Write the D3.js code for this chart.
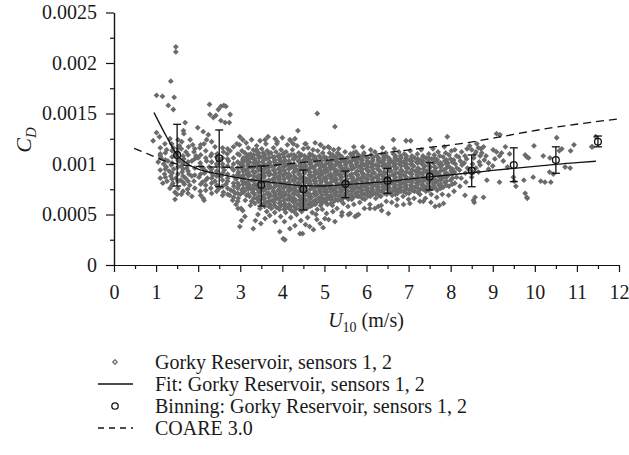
<!DOCTYPE html>
<html>
<head>
<meta charset="utf-8">
<script src="https://cdn.jsdelivr.net/npm/d3@7"></script>
<style>
  html, body { margin: 0; padding: 0; background: #fff; }
  svg { display: block; }
  text { font-family: "Liberation Serif", "DejaVu Serif", "Times New Roman", serif; fill: #1a1a1a; }
</style>
</head>
<body>
<svg id="chart" width="629" height="455"></svg>
<script>
// Wind-speed axis ticks and drag-coefficient axis ticks
const xTickValues = [0, 1, 2, 3, 4, 5, 6, 7, 8, 9, 10, 11, 12];
const xMinorTicks = [0.5, 1.5, 2.5, 3.5, 4.5, 5.5, 6.5, 7.5, 8.5, 9.5, 10.5, 11.5];
const yTickValues = [0, 0.0005, 0.001, 0.0015, 0.002, 0.0025];
const yTickLabels = ["0", "0.0005", "0.001", "0.0015", "0.002", "0.0025"];
const yMinorTicks = [0.00025, 0.00075, 0.00125, 0.00175, 0.00225];

// Legend entries
const legendLabels = [
  "Gorky Reservoir, sensors 1, 2",
  "Fit: Gorky Reservoir, sensors 1, 2",
  "Binning: Gorky Reservoir, sensors 1, 2",
  "COARE 3.0"
];

// Bin-averaged drag coefficient (C_D x 10^4) with error-bar bounds
const binU    = [1.5, 2.5, 3.5, 4.5, 5.5, 6.5, 7.5, 8.5, 9.5, 10.5, 11.5];
const binMean = [10.9, 10.56, 7.92, 7.5, 8.02, 8.35, 8.75, 9.34, 9.9, 10.4, 12.2];
const binLow  = [7.82, 7.75, 5.84, 5.45, 6.67, 7.1, 7.43, 7.75, 8.25, 9.08, 11.7];
const binHigh = [13.93, 13.37, 9.8, 9.4, 9.3, 9.57, 10.13, 10.9, 11.6, 11.7, 12.77];

// Fitted curve (C_D x 10^4)
const fitU  = [0.95, 1.25, 1.5, 1.75, 2.0, 2.5, 3.0, 3.5, 4.0, 4.5, 5.0, 5.5, 6.0, 6.5, 7.0, 7.5, 8.0, 8.5, 9.0, 9.5, 10.0, 10.5, 11.0, 11.45];
const fitCd = [15.1, 12.7, 10.9, 10.0, 9.5, 9.0, 8.6, 8.3, 8.05, 7.85, 7.82, 7.95, 8.1, 8.27, 8.5, 8.72, 8.93, 9.14, 9.36, 9.57, 9.77, 9.97, 10.13, 10.27];

// COARE 3.0 parameterisation (C_D x 10^4)
const coareU  = [0.48, 0.86, 1.17, 1.65, 2.16, 2.9, 3.4, 4.0, 4.66, 5.61, 6.52, 7.31, 8.3, 9.0, 10.2, 11.95];
const coareCd = [11.55, 10.9, 10.35, 9.9, 9.73, 9.67, 9.75, 9.95, 10.23, 10.6, 11.15, 11.55, 12.05, 12.55, 13.45, 14.45];

// Individual measurements: [U10 (m/s), C_D x 10^4]
const measurements = [
  [1.47,21.6],[1.47,21.1],[1.35,18.2],[1.01,16.8],[1.15,16.7],[1.43,16.6],[1.29,15.8],[1.41,15.4],[1.69,14.1],[1.99,13.6],
  [1.01,13.1],[0.93,12.3],[1.08,12.7],[1.33,12.5],[1.37,12.0],[1.21,12.0],[1.25,11.4],[1.41,11.6],[1.65,13.3],[1.66,13.0],
  [1.61,12.2],[1.81,12.4],[1.87,11.9],[1.77,11.7],[1.71,11.2],[1.1,11.0],[1.5,11.0],[1.55,11.8],[1.9,11.2],[1.95,10.8],
  [1.45,10.8],[1.85,10.3],[1.6,11.5],
  [1.12,10.6],[1.05,10.2],[1.18,10.0],[1.28,10.3],[1.24,9.7],[1.36,9.9],[1.31,9.3],[1.42,9.5],[1.2,9.0],[1.35,8.8],
  [1.26,8.3],[1.4,8.1],[1.47,8.6],[1.16,8.1],[1.33,7.6],[1.45,7.2],[1.45,6.5],[1.5,7.0],
  [1.55,10.3],[1.6,9.8],[1.66,10.5],[1.73,9.6],[1.62,9.2],[1.78,9.0],[1.7,8.6],[1.85,8.8],[1.58,8.4],[1.67,8.0],
  [1.8,7.9],[1.9,8.3],[1.75,7.5],[1.85,6.8],[1.6,7.0],
  [2.0,10.6],[2.05,10.1],[2.12,9.6],[2.2,10.3],[2.26,9.7],[2.15,9.1],[2.3,9.2],[2.02,8.7],[2.1,8.2],[2.22,8.6],
  [2.35,8.9],[2.18,7.9],[2.3,7.6],[2.12,6.6],[2.14,6.4],[2.05,7.3],[2.4,8.3],[2.45,9.8],[2.5,10.4],[2.58,10.0],
  [2.62,9.4],[2.55,8.8],[2.7,8.6],[2.66,8.0],[2.5,7.6],[2.78,7.4],[2.6,7.2],[2.85,7.8],[2.9,8.5],[2.95,9.1],
  [2.8,9.6],[2.72,10.3],[2.82,6.4],[2.9,6.0],[2.95,6.6],[2.88,7.1],[2.75,6.9],
  [2.12,13.2],[2.24,12.9],[2.2,12.4],[2.32,12.2],[2.14,12.0],[2.04,11.6],[2.4,11.7],[2.28,14.9],[2.36,14.6],[2.54,14.3],
  [2.64,14.1],[2.74,14.1],[2.54,15.7],[2.61,15.8],[2.48,15.4],[2.76,14.9],[2.42,14.8],[2.66,15.7],[2.27,15.9],
  [2.99,12.7],[3.06,12.4],[2.92,12.0],[2.98,11.9],[2.84,11.7],[2.76,11.3],[2.69,11.0],[2.6,11.2],[2.45,11.0],[2.3,10.8],
  [3.39,11.4],[3.27,10.7],[3.19,10.4],[3.37,10.2],[3.59,12.4],[3.83,12.5],[3.87,12.0],[4.18,12.4],[4.26,12.0],[4.3,12.5],
  [4.54,12.0],[4.9,11.9],[5.09,11.7],[5.17,10.7],[5.31,11.1],[5.69,11.1],
  [3.02,5.6],[3.06,5.4],[2.99,3.8],[3.03,4.4],[3.11,4.8],[2.95,5.6],
  [3.0,7.0],[3.04,7.4],[2.97,7.9],[3.05,8.3],[3.01,8.7],[2.96,9.2],[3.03,9.6],[3.0,10.0],[3.06,10.4],[2.98,10.9],[3.04,11.3],
  [3.12,6.4],[3.15,6.9],[3.1,7.3],[3.17,7.7],[3.13,8.1],[3.09,8.6],[3.16,9.0],[3.12,9.4],[3.18,9.9],[3.1,10.3],[3.15,10.7],[3.11,11.1],[3.19,11.6],[3.14,12.1],
  [3.24,5.9],[3.27,6.3],[3.22,6.8],[3.29,7.2],[3.25,7.6],[3.21,8.0],[3.28,8.4],[3.23,8.9],[3.3,9.3],[3.26,9.7],[3.22,10.2],[3.29,10.6],[3.25,11.0],[3.31,11.4],[3.27,12.4],
  [3.31,3.6],[3.36,4.4],[3.49,4.1],[3.42,5.0],
  [3.35,6.1],[3.39,6.6],[3.34,7.0],[3.41,7.5],[3.37,7.9],[3.33,8.3],[3.4,8.7],[3.36,9.2],[3.42,9.6],[3.38,10.0],[3.34,10.5],[3.41,10.9],[3.37,11.3],[3.39,11.8],
  [3.47,5.6],[3.51,6.0],[3.46,6.4],[3.53,6.8],[3.49,7.3],[3.45,7.7],[3.52,8.1],[3.48,8.5],[3.54,9.0],[3.5,9.4],[3.46,9.8],[3.53,10.2],[3.49,10.7],[3.55,11.1],[3.51,11.5],[3.47,12.3],
  [3.59,4.6],[3.63,5.3],[3.58,5.8],[3.62,6.2],[3.57,6.6],[3.64,7.1],[3.6,7.5],[3.66,7.9],[3.61,8.3],[3.57,8.8],[3.65,9.2],[3.6,9.6],[3.67,10.0],[3.62,10.5],[3.58,10.9],[3.64,11.3],[3.61,12.0],[3.66,12.7],
  [3.7,4.9],[3.74,5.6],[3.71,6.0],[3.76,6.4],[3.72,6.9],[3.78,7.3],[3.73,7.7],[3.69,8.1],[3.77,8.5],[3.72,9.0],[3.79,9.4],[3.74,9.8],[3.7,10.2],[3.77,10.7],[3.73,11.1],[3.79,11.6],
  [3.83,4.3],[3.82,5.2],[3.86,5.7],[3.81,6.2],[3.88,6.6],[3.84,7.0],[3.9,7.4],[3.85,7.9],[3.81,8.3],[3.89,8.7],[3.84,9.1],[3.91,9.5],[3.86,10.0],[3.82,10.4],[3.9,10.8],[3.85,11.2],[3.88,12.2],
  [3.94,3.3],[3.96,4.8],[3.93,5.5],[3.98,5.9],[3.95,6.3],[4.0,6.8],[3.96,7.2],[4.02,7.6],[3.97,8.0],[3.93,8.5],[4.01,8.9],[3.96,9.3],[4.03,9.7],[3.98,10.2],[3.94,10.6],[4.02,11.0],[3.97,11.4],[4.0,12.6],
  [4.02,2.6],[4.06,2.5],[4.05,4.3],[4.08,5.2],[4.1,5.7],[4.06,6.1],[4.12,6.5],[4.08,7.0],[4.14,7.4],[4.09,7.8],[4.05,8.2],[4.13,8.7],[4.08,9.1],[4.15,9.5],[4.1,9.9],[4.06,10.4],[4.14,10.8],[4.09,11.2],[4.12,11.9],
  [4.18,3.6],[4.2,4.7],[4.22,5.4],[4.19,5.8],[4.24,6.3],[4.2,6.7],[4.26,7.1],[4.21,7.5],[4.17,8.0],[4.25,8.4],[4.2,8.8],[4.27,9.2],[4.22,9.7],[4.18,10.1],[4.26,10.5],[4.21,10.9],[4.24,11.4],[4.2,12.3],
  [4.3,3.9],[4.34,5.0],[4.33,5.6],[4.37,6.0],[4.32,6.4],[4.38,6.9],[4.34,7.3],[4.3,7.7],[4.37,8.1],[4.33,8.6],[4.39,9.0],[4.35,9.4],[4.31,9.8],[4.38,10.3],[4.33,10.7],[4.39,11.1],[4.37,13.3],[4.35,11.8],
  [4.48,3.1],[4.42,3.1],[4.44,4.4],[4.46,5.3],[4.44,5.8],[4.49,6.2],[4.45,6.6],[4.51,7.0],[4.46,7.5],[4.42,7.9],[4.5,8.3],[4.45,8.7],[4.52,9.2],[4.47,9.6],[4.43,10.0],[4.51,10.4],[4.46,10.9],[4.5,11.5],[4.56,12.0],
  [4.55,4.0],[4.65,3.8],[4.9,4.1],[5.1,4.5],[4.8,5.0],
  [4.6,4.7],[4.58,5.6],[4.62,6.0],[4.57,6.4],[4.63,6.8],[4.59,7.2],[4.55,7.7],[4.62,8.1],[4.58,8.5],[4.64,8.9],[4.6,9.4],[4.56,9.8],[4.63,10.2],[4.59,10.6],[4.65,11.0],[4.61,11.6],
  [4.74,3.5],[4.71,5.2],[4.7,5.9],[4.74,6.3],[4.69,6.7],[4.76,7.1],[4.71,7.6],[4.67,8.0],[4.75,8.4],[4.7,8.8],[4.77,9.2],[4.72,9.7],[4.68,10.1],[4.75,10.5],[4.71,10.9],[4.73,11.4],[4.78,12.1],
  [4.82,4.5],[4.83,5.5],[4.81,6.2],[4.86,6.6],[4.82,7.0],[4.88,7.4],[4.84,7.8],[4.8,8.3],[4.87,8.7],[4.83,9.1],[4.89,9.5],[4.85,10.0],[4.81,10.4],[4.88,10.8],[4.84,11.3],[4.83,15.0],[4.91,11.9],
  [4.97,3.7],[5.01,4.6],[4.95,5.5],[4.93,6.1],[4.98,6.5],[4.94,6.9],[5.0,7.3],[4.96,7.7],[4.92,8.2],[4.99,8.6],[4.95,9.0],[5.01,9.4],[4.97,9.8],[4.93,10.3],[5.0,10.7],[4.96,11.1],[4.99,11.6],
  [5.05,5.1],[5.07,6.0],[5.05,6.4],[5.1,6.8],[5.06,7.2],[5.12,7.6],[5.08,8.0],[5.04,8.5],[5.11,8.9],[5.07,9.3],[5.13,9.7],[5.09,10.1],[5.05,10.6],[5.12,11.1],[5.12,11.6],
  [5.25,4.3],[5.2,5.3],[5.19,5.9],[5.23,6.3],[5.18,6.7],[5.24,7.1],[5.2,7.5],[5.16,7.9],[5.23,8.4],[5.19,8.8],[5.25,9.2],[5.21,9.6],[5.17,10.0],[5.24,10.4],[5.2,10.9],[5.25,13.7],[5.22,11.4],
  [5.3,5.6],[5.32,6.4],[5.35,6.8],[5.3,7.2],[5.36,7.6],[5.32,8.0],[5.28,8.4],[5.35,8.9],[5.31,9.3],[5.37,9.7],[5.33,10.1],[5.29,10.5],[5.36,10.9],[5.34,11.5],
  [5.41,4.9],[5.42,5.2],[5.45,6.1],[5.44,6.6],[5.48,7.0],[5.43,7.4],[5.49,7.8],[5.45,8.2],[5.41,8.7],[5.48,9.1],[5.44,9.5],[5.5,9.9],[5.46,10.3],[5.42,10.7],[5.49,11.2],
  [5.57,5.0],[5.61,5.1],[5.56,5.8],[5.57,6.5],[5.61,6.9],[5.56,7.3],[5.62,7.7],[5.58,8.1],[5.54,8.5],[5.61,8.9],[5.57,9.4],[5.63,9.8],[5.59,10.2],[5.55,10.6],[5.62,11.0],[5.7,11.7],
  [5.73,4.8],[5.77,4.9],[5.7,6.0],[5.69,6.7],[5.74,7.1],[5.7,7.5],[5.75,7.9],[5.71,8.3],[5.67,8.7],[5.74,9.1],[5.7,9.6],[5.76,10.0],[5.72,10.4],[5.68,10.8],[5.75,11.2],
  [5.81,5.0],[5.84,6.2],[5.82,6.8],[5.87,7.2],[5.83,7.6],[5.88,8.0],[5.84,8.5],[5.8,8.9],[5.87,9.3],[5.83,9.7],[5.89,10.1],[5.85,10.5],[5.81,10.9],[5.91,11.7],
  [5.95,5.6],[5.96,6.5],[5.95,7.0],[6.0,7.4],[5.96,7.8],[6.01,8.2],[5.97,8.6],[5.93,9.0],[6.0,9.5],[5.96,9.9],[6.02,10.3],[5.98,10.7],[5.94,11.1],
  [6.08,5.6],[6.08,6.0],[6.09,6.8],[6.08,7.2],[6.13,7.6],[6.09,8.0],[6.14,8.4],[6.1,8.8],[6.06,9.3],[6.13,9.7],[6.09,10.1],[6.15,10.5],[6.11,10.9],[6.1,11.4],
  [6.2,5.6],[6.28,5.8],[6.22,6.6],[6.21,7.1],[6.26,7.5],[6.22,7.9],[6.27,8.3],[6.23,8.7],[6.19,9.1],[6.26,9.5],[6.22,9.9],[6.28,10.4],[6.24,10.8],[6.2,11.2],
  [6.36,5.4],[6.35,5.9],[6.34,6.8],[6.35,7.3],[6.39,7.7],[6.35,8.1],[6.4,8.5],[6.36,8.9],[6.32,9.3],[6.39,9.8],[6.35,10.2],[6.41,10.6],[6.37,11.0],[6.38,11.6],
  [6.52,5.1],[6.47,6.3],[6.48,7.0],[6.52,7.4],[6.48,7.8],[6.53,8.2],[6.49,8.6],[6.45,9.1],[6.52,9.5],[6.48,9.9],[6.54,10.3],[6.5,10.7],[6.46,11.1],[6.64,12.4],
  [6.6,6.2],[6.61,6.9],[6.62,7.3],[6.66,7.7],[6.61,8.1],[6.67,8.5],[6.63,8.9],[6.59,9.3],[6.65,9.8],[6.61,10.2],[6.68,10.6],[6.64,11.0],[6.66,11.5],
  [6.72,5.9],[6.73,6.5],[6.74,7.1],[6.75,7.5],[6.79,7.9],[6.75,8.3],[6.8,8.7],[6.76,9.1],[6.72,9.6],[6.79,10.0],[6.75,10.4],[6.81,10.8],[6.77,11.2],
  [6.88,6.0],[6.87,6.8],[6.88,7.3],[6.92,7.7],[6.88,8.1],[6.93,8.5],[6.89,8.9],[6.85,9.3],[6.92,9.8],[6.88,10.2],[6.94,10.6],[6.9,11.0],[6.94,12.3],
  [7.03,6.1],[7.0,6.5],[7.01,7.1],[7.02,7.5],[7.06,7.9],[7.01,8.3],[7.07,8.7],[7.03,9.1],[6.99,9.6],[7.06,10.0],[7.02,10.4],[7.08,10.8],[7.05,12.3],[7.04,11.3],
  [7.13,6.6],[7.14,7.3],[7.15,7.7],[7.19,8.1],[7.15,8.5],[7.2,8.9],[7.16,9.3],[7.12,9.8],[7.19,10.2],[7.15,10.6],[7.21,11.0],
  [7.27,6.3],[7.35,6.3],[7.27,7.0],[7.28,7.5],[7.32,7.9],[7.28,8.3],[7.33,8.7],[7.29,9.1],[7.25,9.5],[7.32,10.0],[7.28,10.4],[7.34,10.8],[7.3,11.4],
  [7.4,6.6],[7.41,7.3],[7.42,7.7],[7.46,8.1],[7.41,8.5],[7.47,8.9],[7.43,9.3],[7.39,9.8],[7.46,10.2],[7.42,10.6],[7.48,11.0],[7.51,12.4],
  [7.53,6.2],[7.54,7.0],[7.55,7.6],[7.59,8.0],[7.55,8.4],[7.6,8.8],[7.56,9.2],[7.52,9.7],[7.59,10.1],[7.55,10.5],[7.61,10.9],[7.58,11.5],
  [7.63,5.8],[7.73,5.9],[7.83,6.1],[7.67,6.7],[7.68,7.4],[7.72,7.9],[7.68,8.3],[7.73,8.7],[7.69,9.1],[7.65,9.6],[7.72,10.0],[7.68,10.4],[7.74,10.8],[7.7,11.2],
  [7.8,7.0],[7.82,7.7],[7.86,8.2],[7.81,8.6],[7.87,9.0],[7.83,9.4],[7.79,9.9],[7.86,10.3],[7.82,10.7],[7.88,11.1],[7.92,12.7],[7.85,11.7],
  [7.95,6.9],[7.96,7.8],[8.0,8.4],[7.95,8.9],[8.01,9.3],[7.97,9.7],[7.93,10.1],[8.0,10.5],[7.96,10.9],[8.02,11.3],
  [8.08,7.3],[8.1,8.1],[8.14,8.7],[8.09,9.2],[8.15,9.6],[8.11,10.0],[8.07,10.4],[8.14,10.8],[8.1,11.4],
  [8.22,7.8],[8.25,8.6],[8.21,9.4],[8.27,9.9],[8.23,10.3],[8.19,10.7],[8.26,11.2],
  [8.34,6.9],[8.34,10.8],[8.38,10.5],[8.36,8.2],[8.35,9.1],[8.4,9.6],[8.32,10.1],[8.39,11.5],
  [8.54,6.4],[8.56,6.2],[8.58,6.7],[8.78,6.7],[8.5,8.7],[8.48,9.4],[8.52,10.0],[8.55,10.6],[8.62,12.0],[8.6,11.2],
  [8.7,10.8],[8.72,11.5],[8.78,11.7],[8.66,9.2],[8.68,10.2],[8.8,10.4],
  [8.45,11.8],[8.5,11.4],[8.58,11.0],[8.66,11.6],[8.74,11.1],[8.84,10.8],[8.7,9.9],[8.6,9.6],[8.52,9.2],[8.9,9.5],[9.0,9.8],
  [8.9,10.1],[8.86,8.4],[9.16,8.2],[9.49,8.7],[9.51,8.3],[9.55,7.8],[9.74,8.4],[9.96,8.7],
  [9.01,11.4],[9.09,11.2],[9.21,11.1],[9.16,10.8],[9.09,13.0],[9.17,12.9],[9.05,10.5],[9.25,10.3],[9.3,11.7],[9.4,11.0],[9.35,9.7],
  [9.77,10.9],[9.81,10.7],[9.85,10.6],[9.98,11.8],[9.77,7.1],[9.81,6.7],[9.82,6.6],
  [10.14,8.3],[10.24,8.2],[10.38,8.2],[10.35,9.2],[10.44,9.0],[10.72,9.7],[10.84,9.6],[10.2,10.8],[10.36,10.6],
  [10.52,12.6],[10.64,11.5],[10.58,11.3],[10.85,11.3],[10.93,11.9],
  [11.35,11.7],[11.37,11.7],[11.45,12.7]
];

// Further measurements in the densely sampled band, listed per wind speed: [U10, [C_D x 10^4, ...]]
const denseColumns = [
  [1.1, [8.6, 9.4, 10.8, 11.6]],
  [1.22, [8.7, 9.5, 10.4, 11.1]],
  [1.38, [7.9, 8.5, 9.1, 10.1, 10.7, 11.3]],
  [1.52, [7.6, 8.3, 9.0, 9.7, 10.4, 11.5, 12.4]],
  [1.64, [7.3, 8.2, 8.8, 9.5, 10.1, 10.8]],
  [1.76, [7.1, 8.3, 9.3, 10.2, 10.9]],
  [1.92, [7.6, 8.9, 9.6, 10.5, 11.5]],
  [2.06, [6.9, 8.0, 9.0, 9.8, 10.9, 11.9]],
  [2.18, [7.4, 8.4, 9.3, 10.6, 11.3]],
  [2.32, [7.1, 8.1, 8.6, 9.5, 10.2, 11.0]],
  [2.44, [7.3, 7.9, 8.8, 9.3, 10.0, 10.7]],
  [2.58, [6.9, 7.8, 8.4, 9.1, 9.7, 10.6, 11.6]],
  [2.7, [7.0, 7.6, 8.3, 9.0, 9.8, 10.5, 11.5]],
  [2.84, [6.7, 7.3, 8.1, 8.8, 9.4, 10.0, 10.6]],
  [2.94, [6.3, 7.1, 7.6, 8.1, 8.9, 9.6, 10.2, 11.0]],
  [3.07, [7.2, 7.6, 8.0, 8.5, 8.9, 9.3, 9.8, 10.2, 10.6]],
  [3.19, [7.0, 7.5, 7.9, 8.3, 8.8, 9.2, 9.6, 10.1, 10.5, 10.9]],
  [3.32, [6.6, 7.1, 7.5, 7.9, 8.4, 8.8, 9.2, 9.7, 10.1, 10.5, 10.9]],
  [3.44, [6.3, 6.8, 7.2, 7.6, 8.1, 8.5, 8.9, 9.4, 9.8, 10.2, 10.6, 11.1]],
  [3.56, [6.1, 6.5, 6.9, 7.4, 7.8, 8.2, 8.7, 9.1, 9.5, 10.0, 10.4, 10.8]],
  [3.68, [5.8, 6.3, 6.7, 7.1, 7.6, 8.0, 8.4, 8.9, 9.3, 9.7, 10.1, 10.6, 11.0]],
  [3.81, [5.9, 6.4, 6.8, 7.2, 7.7, 8.1, 8.5, 8.9, 9.4, 9.8, 10.2, 10.7]],
  [3.93, [5.7, 6.1, 6.6, 7.0, 7.4, 7.8, 8.3, 8.7, 9.1, 9.6, 10.0, 10.4, 10.9]],
  [4.04, [5.5, 5.9, 6.4, 6.8, 7.2, 7.7, 8.1, 8.5, 8.9, 9.4, 9.8, 10.2, 10.7, 11.1]],
  [4.16, [5.6, 6.0, 6.5, 6.9, 7.3, 7.8, 8.2, 8.6, 9.0, 9.5, 9.9, 10.3, 10.8]],
  [4.28, [5.3, 5.8, 6.2, 6.6, 7.0, 7.5, 7.9, 8.3, 8.8, 9.2, 9.6, 10.0, 10.5, 10.9]],
  [4.41, [5.5, 6.0, 6.4, 6.8, 7.3, 7.7, 8.1, 8.5, 9.0, 9.4, 9.8, 10.3, 10.7]],
  [4.53, [5.6, 6.0, 6.5, 6.9, 7.3, 7.8, 8.2, 8.6, 9.1, 9.5, 9.9, 10.3, 10.8]],
  [4.66, [5.8, 6.2, 6.6, 7.0, 7.5, 7.9, 8.3, 8.7, 9.2, 9.6, 10.0, 10.4, 10.8]],
  [4.78, [6.0, 6.4, 6.9, 7.3, 7.7, 8.1, 8.6, 9.0, 9.4, 9.8, 10.3, 10.7]],
  [4.91, [5.9, 6.3, 6.7, 7.2, 7.6, 8.0, 8.4, 8.9, 9.3, 9.7, 10.1, 10.6]],
  [5.03, [6.2, 6.6, 7.0, 7.5, 7.9, 8.3, 8.7, 9.2, 9.6, 10.0, 10.4]],
  [5.15, [6.1, 6.5, 6.9, 7.3, 7.8, 8.2, 8.6, 9.0, 9.5, 9.9, 10.3, 10.7]],
  [5.27, [6.5, 6.9, 7.3, 7.7, 8.2, 8.6, 9.0, 9.4, 9.9, 10.3, 10.7]],
  [5.39, [6.4, 6.8, 7.2, 7.6, 8.1, 8.5, 8.9, 9.3, 9.8, 10.2, 10.6]],
  [5.52, [6.7, 7.1, 7.5, 8.0, 8.4, 8.8, 9.2, 9.6, 10.1, 10.5]],
  [5.65, [6.5, 6.9, 7.3, 7.8, 8.2, 8.6, 9.0, 9.5, 9.9, 10.3, 10.7]],
  [5.78, [6.8, 7.2, 7.7, 8.1, 8.5, 8.9, 9.3, 9.8, 10.2, 10.6]],
  [5.9, [6.6, 7.0, 7.4, 7.8, 8.3, 8.7, 9.1, 9.5, 9.9, 10.4, 10.8]],
  [6.03, [6.8, 7.2, 7.6, 8.0, 8.5, 8.9, 9.3, 9.7, 10.1, 10.6]],
  [6.15, [7.0, 7.4, 7.8, 8.2, 8.6, 9.1, 9.5, 9.9, 10.3, 10.7]],
  [6.29, [6.9, 7.3, 7.7, 8.1, 8.5, 8.9, 9.4, 9.8, 10.2, 10.6]],
  [6.42, [7.1, 7.5, 7.9, 8.3, 8.7, 9.2, 9.6, 10.0, 10.4, 10.8]],
  [6.55, [7.2, 7.6, 8.0, 8.4, 8.8, 9.3, 9.7, 10.1, 10.5]],
  [6.69, [7.0, 7.4, 7.9, 8.3, 8.7, 9.1, 9.5, 10.0, 10.4, 10.8]],
  [6.82, [7.3, 7.7, 8.1, 8.5, 8.9, 9.4, 9.8, 10.2, 10.6]],
  [6.95, [7.1, 7.5, 7.9, 8.3, 8.7, 9.2, 9.6, 10.0, 10.4, 10.8]],
  [7.08, [7.4, 7.8, 8.2, 8.6, 9.0, 9.4, 9.9, 10.3, 10.7]],
  [7.22, [7.2, 7.6, 8.0, 8.4, 8.8, 9.2, 9.6, 10.1, 10.5]],
  [7.35, [7.5, 7.9, 8.3, 8.7, 9.1, 9.5, 9.9, 10.3, 10.7]],
  [7.48, [7.4, 7.8, 8.2, 8.6, 9.0, 9.4, 9.8, 10.2, 10.6]],
  [7.62, [7.7, 8.1, 8.5, 8.9, 9.3, 9.7, 10.2, 10.6]],
  [7.76, [7.6, 8.0, 8.4, 8.8, 9.3, 9.7, 10.1]],
  [7.9, [7.9, 8.3, 8.7, 9.1, 9.6, 10.0, 10.4]],
  [8.04, [8.0, 8.6, 9.0, 9.5, 10.2]]
];

const allPoints = measurements.concat(
  denseColumns.flatMap(([u, values]) => values.map(v => [u, v]))
);

const svg = d3.select("#chart");
const x = d3.scaleLinear().domain([0, 12]).range([114, 619]);
const y = d3.scaleLinear().domain([0, 0.0025]).range([265, 12.5]);
const cd = v => v * 1e-4;

// Diamond marker (square rotated 45 degrees)
const diamond = {
  draw(ctx, size) {
    const r = Math.sqrt(size / 2);
    ctx.moveTo(0, -r); ctx.lineTo(r, 0); ctx.lineTo(0, r); ctx.lineTo(-r, 0); ctx.closePath();
  }
};
const markerPath = d3.symbol().type(diamond).size(17)();

// Scatter of individual measurements
svg.append("g")
  .selectAll("path")
  .data(allPoints)
  .join("path")
  .attr("d", markerPath)
  .attr("transform", d => `translate(${x(d[0])},${y(cd(d[1]))})`)
  .attr("fill", "#6b6b6b");

// COARE 3.0 dashed curve
const curveLine = d3.line().curve(d3.curveMonotoneX).x(d => x(d[0])).y(d => y(cd(d[1])));
svg.append("path")
  .datum(coareU.map((u, i) => [u, coareCd[i]]))
  .attr("d", curveLine)
  .attr("fill", "none").attr("stroke", "#111").attr("stroke-width", 1.3)
  .attr("stroke-dasharray", "8,5");

// Fitted curve
svg.append("path")
  .datum(fitU.map((u, i) => [u, fitCd[i]]))
  .attr("d", curveLine)
  .attr("fill", "none").attr("stroke", "#111").attr("stroke-width", 1.3);

// Binned means with error bars
const bins = binU.map((u, i) => ({ u, mean: binMean[i], lo: binLow[i], hi: binHigh[i] }));
const binG = svg.append("g").attr("stroke", "#111").attr("stroke-width", 1.3).attr("fill", "none");
binG.selectAll("line.stem").data(bins).join("line").attr("class", "stem")
  .attr("x1", d => x(d.u)).attr("x2", d => x(d.u))
  .attr("y1", d => y(cd(d.lo))).attr("y2", d => y(cd(d.hi)));
binG.selectAll("line.capHi").data(bins).join("line").attr("class", "capHi")
  .attr("x1", d => x(d.u) - 4).attr("x2", d => x(d.u) + 4)
  .attr("y1", d => y(cd(d.hi))).attr("y2", d => y(cd(d.hi)));
binG.selectAll("line.capLo").data(bins).join("line").attr("class", "capLo")
  .attr("x1", d => x(d.u) - 4).attr("x2", d => x(d.u) + 4)
  .attr("y1", d => y(cd(d.lo))).attr("y2", d => y(cd(d.lo)));
binG.selectAll("circle").data(bins).join("circle")
  .attr("cx", d => x(d.u)).attr("cy", d => y(cd(d.mean))).attr("r", 3.4);

// Axes
const axisStyle = g => {
  g.attr("font-family", null);
  g.selectAll("path, line").attr("stroke", "#111").attr("stroke-width", 1.2);
  g.selectAll("text")
    .style("font-family", "'Liberation Serif', 'DejaVu Serif', serif")
    .style("font-size", "20px").attr("fill", "#1a1a1a");
};

svg.append("g").attr("transform", "translate(0,265)")
  .call(d3.axisBottom(x).tickValues(xMinorTicks).tickSize(4).tickSizeOuter(0).tickFormat(""))
  .call(axisStyle);
svg.append("g").attr("transform", "translate(0,265)")
  .call(d3.axisBottom(x).tickValues(xTickValues).tickSize(7).tickSizeOuter(0).tickPadding(13).tickFormat(d3.format("d")))
  .call(axisStyle);

svg.append("g").attr("transform", "translate(114,0)")
  .call(d3.axisLeft(y).tickValues(yMinorTicks).tickSize(4).tickSizeOuter(0).tickFormat(""))
  .call(axisStyle);
svg.append("g").attr("transform", "translate(114,0)")
  .call(d3.axisLeft(y).tickValues(yTickValues).tickSize(8).tickSizeOuter(0).tickPadding(9)
    .tickFormat((d, i) => yTickLabels[i]))
  .call(axisStyle);

// Axis titles
const xTitle = svg.append("text").attr("x", 366).attr("y", 327).attr("text-anchor", "middle").style("font-size", "20px");
xTitle.append("tspan").attr("font-style", "italic").text("U");
xTitle.append("tspan").attr("dy", 5).style("font-size", "14px").text("10");
xTitle.append("tspan").attr("dy", -5).text(" (m/s)");

const yTitle = svg.append("text").attr("transform", "translate(31,140) rotate(-90)")
  .attr("text-anchor", "middle").style("font-size", "22px");
yTitle.append("tspan").attr("font-style", "italic").text("C");
yTitle.append("tspan").attr("font-style", "italic").attr("dy", 5).style("font-size", "15px").text("D");

// Legend
const legendY = [362, 384, 406, 428];
const legend = svg.append("g");
legendLabels.forEach((label, i) => {
  legend.append("text").attr("x", 155).attr("y", legendY[i] + 7).style("font-size", "20px").text(label);
});
legend.append("path").attr("d", d3.symbol().type(diamond).size(10)())
  .attr("transform", `translate(115,${legendY[0]})`).attr("fill", "none").attr("stroke", "#777").attr("stroke-width", 1.4);
legend.append("line").attr("x1", 98).attr("x2", 133).attr("y1", legendY[1]).attr("y2", legendY[1])
  .attr("stroke", "#111").attr("stroke-width", 1.3);
legend.append("circle").attr("cx", 115).attr("cy", legendY[2]).attr("r", 3.2)
  .attr("fill", "none").attr("stroke", "#111").attr("stroke-width", 1.3);
legend.append("line").attr("x1", 98).attr("x2", 133).attr("y1", legendY[3]).attr("y2", legendY[3])
  .attr("stroke", "#111").attr("stroke-width", 1.3).attr("stroke-dasharray", "6,5");
</script>
</body>
</html>
